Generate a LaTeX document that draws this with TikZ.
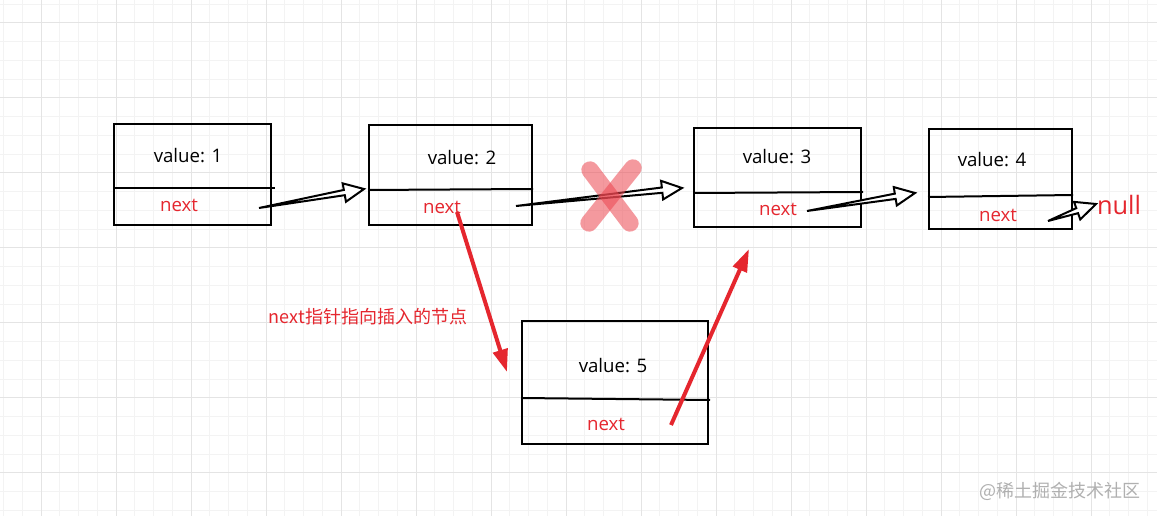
\documentclass[tikz,border=0pt]{standalone}
\usepackage{fontspec}
\setmainfont{Open Sans}
\newfontfamily\cjk{Noto Sans CJK SC}
\usetikzlibrary{calc,arrows.meta}
\definecolor{nred}{HTML}{E5262E}
\definecolor{xred}{HTML}{EC4650}
\definecolor{gridca}{HTML}{F3F3F3}
\definecolor{gridcb}{HTML}{E4E4E4}
\definecolor{wmgray}{HTML}{B0B0B0}
\newcommand\hollowlink[2]{%
  \coordinate (hb-#1) at ($(#2)!15pt!(#1)$);
  \draw[hollow] (#1) -- ($(hb-#1)!2pt!90:(#2)$) -- ($(hb-#1)!7pt!90:(#2)$) -- (#2)
     -- ($(hb-#1)!7pt!-90:(#2)$) -- ($(hb-#1)!2pt!-90:(#2)$) -- cycle;}
\begin{document}
\begin{tikzpicture}[x=0.75pt,y=-0.75pt,
  gridminor/.style={draw=gridca,line width=0.75pt},
  gridmajor/.style={draw=gridcb,line width=0.75pt},
  listbox/.style={draw=black,line width=1.5pt,inner sep=0pt},
  divider/.style={draw=black,line width=1.5pt},
  valtext/.style={font=\fontsize{14}{16}\selectfont,text=black,inner sep=0pt},
  nexttext/.style={font=\fontsize{14}{16}\selectfont,text=nred,inner sep=0pt},
  hollow/.style={draw=black,line width=1.5pt,fill=white,line join=miter},
  redarrow/.style={draw=nred,line width=3pt,-{Triangle[length=17pt,width=11pt]}},
  crossstroke/.style={draw=xred,line width=13pt,line cap=round,opacity=0.55},
]
\useasboundingbox (0,0) rectangle (1157,516);
\fill[white] (0,0) rectangle (1157,516);
% grid
\foreach \i in {0,...,61} \draw[gridminor] ({3.5+18.75*\i},0) -- ({3.5+18.75*\i},516);
\foreach \j in {0,...,27} \draw[gridminor] (0,{4.25+18.75*\j}) -- (1157,{4.25+18.75*\j});
\foreach \i in {0,...,14} \draw[gridmajor] ({41+75*\i},0) -- ({41+75*\i},516);
\foreach \j in {0,...,6} \draw[gridmajor] (0,{23+75*\j}) -- (1157,{23+75*\j});

% boxes
\node[listbox,minimum width=117.75pt,minimum height=75.75pt] (n1) at (192.5,174.5) {};
\node[listbox,minimum width=122.25pt,minimum height=75pt] (n2) at (450.5,175) {};
\node[listbox,minimum width=125.25pt,minimum height=74.25pt] (n3) at (777.5,177.5) {};
\node[listbox,minimum width=107.25pt,minimum height=75pt] (n4) at (1000.5,179) {};
\node[listbox,minimum width=139.5pt,minimum height=92.25pt] (n5) at (615,382.5) {};

% dividers
\draw[divider] (n1.west |- 0,188) -- (275,188);
\draw[divider] (n2.west |- 0,190) -- (n2.east |- 0,189);
\draw[divider] (n3.west |- 0,193) -- (863,192);
\draw[divider] (n4.west |- 0,197) -- (n4.east |- 0,195);
\draw[divider] (n5.west |- 0,398) -- (710,400);

% texts
\node[valtext] (v1) at (188,156) {value: 1};
\node[valtext] (v2) at (462,158) {value: 2};
\node[valtext] (v3) at (777,157) {value: 3};
\node[valtext] (v4) at (992,160) {value: 4};
\node[valtext] (v5) at (613,366) {value: 5};
\node[nexttext] (x1) at (179,205) {next};
\node[nexttext] (x2) at (442,207) {next};
\node[nexttext] (x3) at (778,209) {next};
\node[nexttext] (x4) at (998,215) {next};
\node[nexttext] (x5) at (606,424) {next};
\node[font=\fontsize{19}{22}\selectfont,text=nred,inner sep=0pt] (nul) at (1119,205) {null};
\node[font=\fontsize{13.5}{16}\selectfont\cjk,text=nred,inner sep=0pt] (lbl) at (368,317) {next指针指向插入的节点};
\node[font=\fontsize{13.5}{16}\selectfont\cjk,text=wmgray,inner sep=0pt] (wm) at (1060,491) {@稀土掘金技术社区};

% hollow arrows
\coordinate (a1s) at (259,208); \coordinate (a1e) at (364,189);
\coordinate (a2s) at (516,206); \coordinate (a2e) at (682,188);
\coordinate (a3s) at (807,211); \coordinate (a3e) at (915,193);
\coordinate (a4s) at (1048,221); \coordinate (a4e) at (1096,204);
\hollowlink{a1s}{a1e}
\hollowlink{a2s}{a2e}
\hollowlink{a3s}{a3e}
\hollowlink{a4s}{a4e}

% red cross
\coordinate (xa) at (590,170); \coordinate (xb) at (630,223);
\coordinate (xc) at (633,168); \coordinate (xd) at (589,223);
\draw[crossstroke] (xa) -- (xb);
\draw[crossstroke] (xc) -- (xd);

% red arrows
\coordinate (r1s) at (457,212); \coordinate (r1e) at (507,372);
\coordinate (r2s) at (671,425); \coordinate (r2e) at (749,249);
\draw[redarrow] (r1s) -- (r1e);
\draw[redarrow] (r2s) -- (r2e);
\end{tikzpicture}
\end{document}
